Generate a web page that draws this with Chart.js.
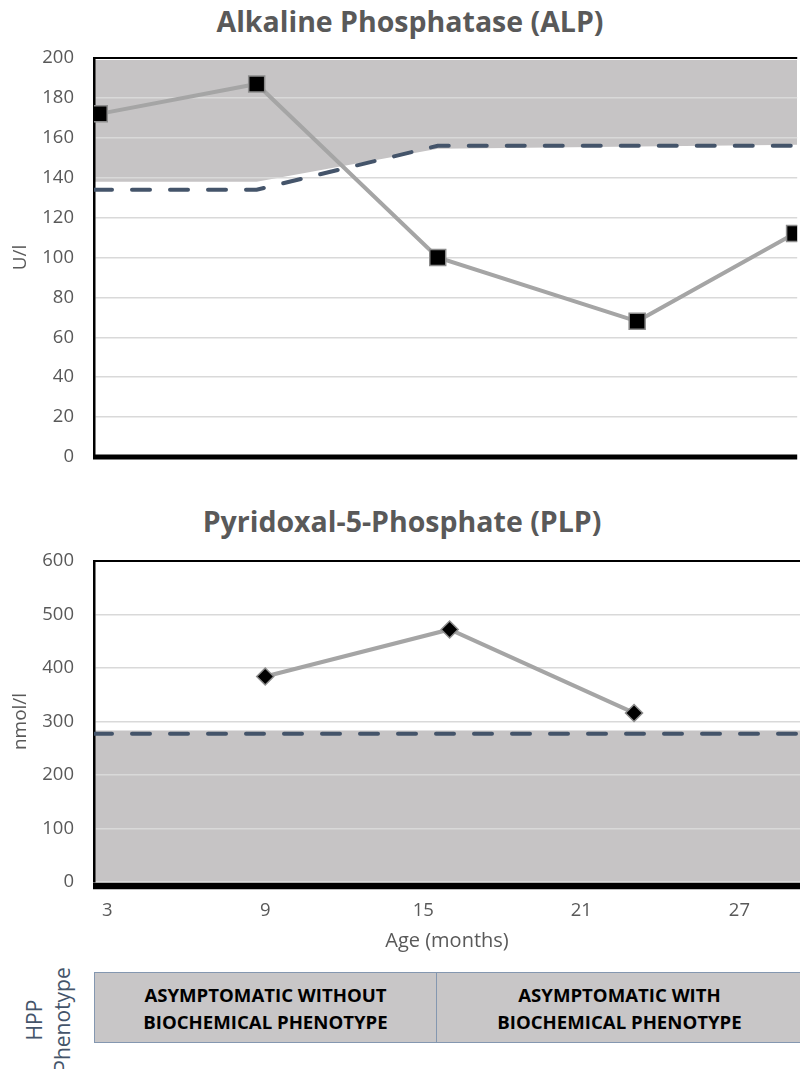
<!DOCTYPE html>
<html>
<head>
<meta charset="utf-8">
<script src="https://cdn.jsdelivr.net/npm/chart.js@4.4.1/dist/chart.umd.min.js"></script>
<style>
  html, body { margin: 0; padding: 0; background: #fff; overflow: hidden; }
  .wrap { position: relative; width: 800px; height: 1069px; overflow: hidden; font-family: 'Open Sans', sans-serif; }
  canvas { position: absolute; left: 0; }
  .title { position: absolute; left: 0; text-align: center; font-weight: bold; font-size: 28.5px; line-height: 28.5px; color: #595959; white-space: nowrap; }
  .pheno { position: absolute; left: 94px; top: 972px; width: 707px; height: 69px; display: flex;
           border: 1.5px solid #8497b0; background: #c8c6c7; }
  .pheno div { display: flex; align-items: center; justify-content: center; text-align: center;
               font-weight: bold; font-size: 18.6px; line-height: 27px; color: #000; }
  .side { position: absolute; transform: translate(-50%, -50%) rotate(-90deg); white-space: nowrap;
          font-size: 21px; line-height: 28px; color: #44546a; }
</style>
</head>
<body>
<div class="wrap">
  <div class="title" style="top:7px; width:820px;">Alkaline Phosphatase (ALP)</div>
  <canvas id="alpChart" width="810" height="490" style="top:0"></canvas>
  <div class="title" style="top:507px; width:804px;">Pyridoxal-5-Phosphate (PLP)</div>
  <canvas id="plpChart" width="810" height="470" style="top:490px"></canvas>
  <div class="side" style="left:34px; top:1020px;">HPP</div>
  <div class="side" style="left:62px; top:1020px;">Phenotype</div>
  <div class="pheno">
    <div style="width:341px; border-right:1.5px solid #8497b0;">ASYMPTOMATIC WITHOUT<br>BIOCHEMICAL PHENOTYPE</div>
    <div style="flex:1;">ASYMPTOMATIC WITH<br>BIOCHEMICAL PHENOTYPE</div>
  </div>
</div>
<script>
// ages (months) and values
const ageTicks = [3, 9, 15, 21, 27];
const ageMin = 2.5;
const ageMax = 29.3;

const alpAge = [2.7, 8.7, 15.6, 23.2, 29.2];
const alpValues = [172, 187, 100, 68, 112];

const plpAge = [9, 16, 23];
const plpValues = [384, 472, 316];

// reference ranges (grey bands) and cut-off (dashed)
const alpRefAge = [2.5, 8.7, 15.6, 29.3];
const alpRefLow = [138, 138, 154.5, 156.5];
const alpRefHigh = [199, 199, 199, 199];
const alpCutAge = [2.5, 8.7, 15.6, 29.3];
const alpCutoff = [134, 134, 156, 156];

const plpRefAge = [2.5, 29.3];
const plpRefHigh = [283, 283];
const plpCutoff = [277, 277];

const grey = '#595959';
const bandColor = '#c6c4c5';
const lineColor = '#a5a5a5';
const dashColor = '#44546a';

function toXY(xs, ys) {
  return xs.map(function(x, i) { return { x: x, y: ys[i] }; });
}

// thin top border + thick bottom axis line of the plot area
const frame = {
  id: 'frame',
  afterDraw: function(chart, args, opts) {
    const a = chart.chartArea, ctx = chart.ctx;
    ctx.save();
    ctx.strokeStyle = '#000';
    ctx.lineWidth = 2;
    ctx.beginPath();
    ctx.moveTo(a.left, a.top);
    ctx.lineTo(a.right, a.top);
    ctx.stroke();
    ctx.lineWidth = opts.bottomWidth;
    ctx.beginPath();
    ctx.moveTo(a.left - 1, a.bottom + opts.bottomOffset);
    ctx.lineTo(a.right, a.bottom + opts.bottomOffset);
    ctx.stroke();
    ctx.restore();
  }
};

function makeOptions(cfg) {
  return {
    responsive: false,
    animation: false,
    layout: { padding: { top: cfg.padTop, right: 7, bottom: 0, left: 0 } },
    plugins: {
      legend: { display: false },
      tooltip: { enabled: false },
      filler: { drawTime: 'beforeDraw' },
      frame: { bottomWidth: cfg.xBorder, bottomOffset: cfg.xOffset }
    },
    scales: {
      x: {
        type: 'linear',
        min: ageMin,
        max: ageMax,
        afterBuildTicks: function(axis) { axis.ticks = ageTicks.map(function(v) { return { value: v }; }); },
        afterFit: function(axis) { axis.height = cfg.xHeight; },
        grid: { display: false, drawTicks: false },
        border: { display: false },
        ticks: {
          display: cfg.showX,
          padding: 18,
          color: grey,
          font: { family: 'Open Sans', size: 18.5 },
          maxRotation: 0
        },
        title: {
          display: cfg.showX,
          text: 'Age (months)',
          color: grey,
          font: { family: 'Open Sans', size: 20 },
          padding: { top: 0, bottom: 7 }
        }
      },
      y: {
        min: 0,
        max: cfg.yMax,
        afterFit: function(axis) { axis.width = 94; },
        ticks: {
          stepSize: cfg.yStep,
          padding: 20,
          color: grey,
          font: { family: 'Open Sans', size: 18.5 }
        },
        grid: { color: '#d9d9d9', lineWidth: 1.5, drawTicks: false },
        border: { display: true, color: '#000', width: 2.5 },
        title: {
          display: true,
          text: cfg.yTitle,
          color: grey,
          font: { family: 'Open Sans', size: 19 },
          padding: { top: 9, bottom: 0 }
        }
      }
    }
  };
}

// ALP chart
new Chart(document.getElementById('alpChart').getContext('2d'), {
  type: 'line',
  data: {
    datasets: [
      {
        data: toXY(alpAge, alpValues),
        borderColor: lineColor,
        borderWidth: 4,
        pointStyle: 'rect',
        pointRadius: 11.3,
        pointBackgroundColor: '#000',
        pointBorderColor: '#8c8c8c',
        pointBorderWidth: 1.5,
        fill: false
      },
      {
        data: toXY(alpCutAge, alpCutoff),
        borderColor: dashColor,
        borderWidth: 4,
        borderDash: [18, 20],
        borderCapStyle: 'round',
        pointRadius: 0,
        fill: false
      },
      {
        data: toXY(alpRefAge, alpRefHigh),
        borderColor: 'rgba(0,0,0,0)',
        borderWidth: 0,
        pointRadius: 0,
        backgroundColor: bandColor,
        fill: '+1'
      },
      {
        data: toXY(alpRefAge, alpRefLow),
        borderColor: 'rgba(0,0,0,0)',
        borderWidth: 0,
        pointRadius: 0,
        fill: false
      }
    ]
  },
  options: makeOptions({ padTop: 58, xHeight: 33, xBorder: 5, xOffset: 0, showX: false, yMax: 200, yStep: 20, yTitle: 'U/l' }),
  plugins: [frame]
});

// PLP chart
new Chart(document.getElementById('plpChart').getContext('2d'), {
  type: 'line',
  data: {
    datasets: [
      {
        data: toXY(plpAge, plpValues),
        borderColor: lineColor,
        borderWidth: 4,
        pointStyle: 'rectRot',
        pointRadius: 8.5,
        pointBackgroundColor: '#000',
        pointBorderColor: '#8c8c8c',
        pointBorderWidth: 1.5,
        fill: false
      },
      {
        data: toXY(plpRefAge, plpCutoff),
        borderColor: dashColor,
        borderWidth: 4,
        borderDash: [18, 20],
        borderCapStyle: 'round',
        pointRadius: 0,
        fill: false
      },
      {
        data: toXY(plpRefAge, plpRefHigh),
        borderColor: 'rgba(0,0,0,0)',
        borderWidth: 0,
        pointRadius: 0,
        backgroundColor: bandColor,
        fill: 'origin'
      }
    ]
  },
  options: makeOptions({ padTop: 71, xHeight: 78, xBorder: 6.5, xOffset: 4, showX: true, yMax: 600, yStep: 100, yTitle: 'nmol/l' }),
  plugins: [frame]
});
</script>
</body>
</html>
